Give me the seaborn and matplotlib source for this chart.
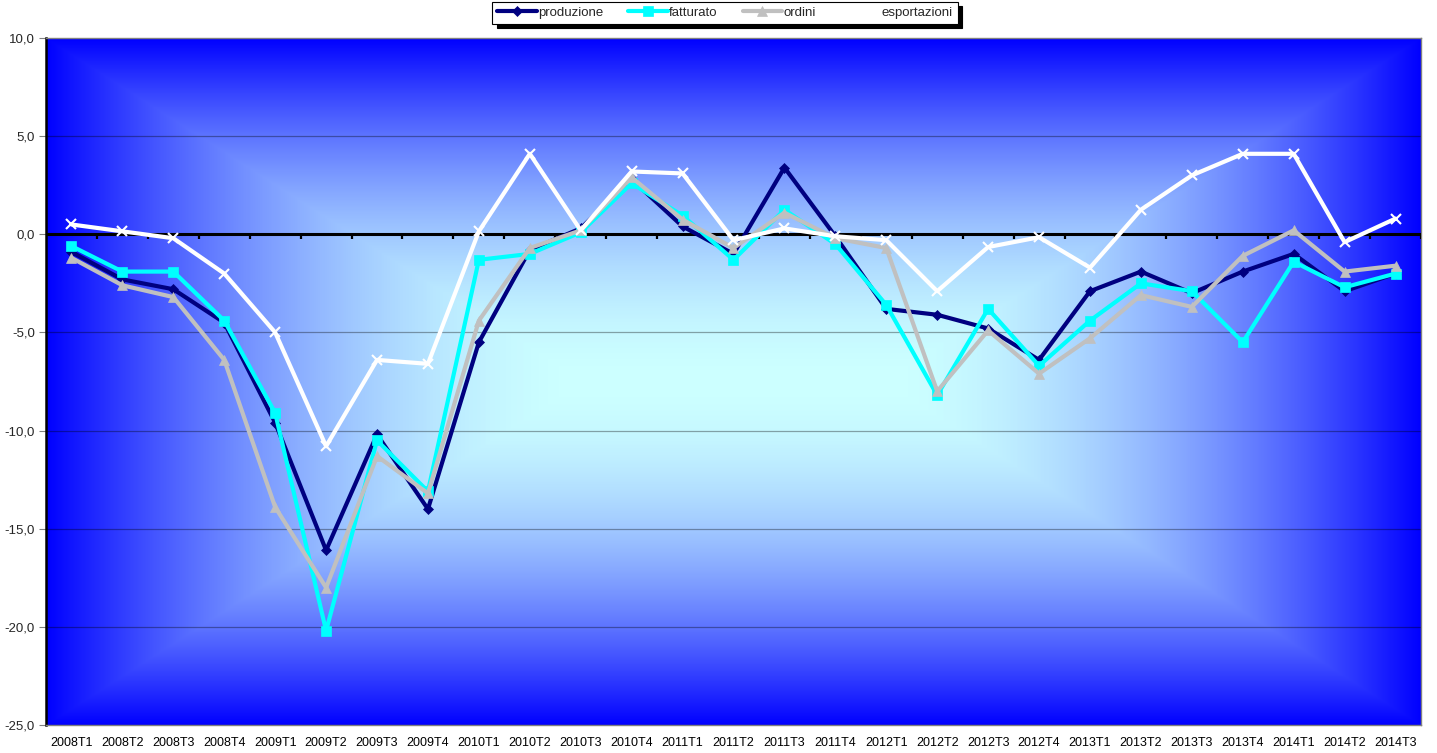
import numpy as np
import pandas as pd
import matplotlib
matplotlib.use('Agg')
import matplotlib.pyplot as plt
import seaborn as sns
from matplotlib.colors import LinearSegmentedColormap
from matplotlib.ticker import FuncFormatter, MultipleLocator

# dati trimestrali (variazioni %)
trimestri = ['2008T1', '2008T2', '2008T3', '2008T4',
             '2009T1', '2009T2', '2009T3', '2009T4',
             '2010T1', '2010T2', '2010T3', '2010T4',
             '2011T1', '2011T2', '2011T3', '2011T4',
             '2012T1', '2012T2', '2012T3', '2012T4',
             '2013T1', '2013T2', '2013T3', '2013T4',
             '2014T1', '2014T2', '2014T3']

produzione = [-0.9, -2.3, -2.8, -4.5, -9.6, -16.1, -10.2, -14.0,
              -5.5, -0.8, 0.3, 2.8, 0.4, -1.0, 3.4, -0.1,
              -3.8, -4.1, -4.8, -6.4, -2.9, -1.9, -3.0, -1.9,
              -1.0, -2.9, -2.0]
fatturato = [-0.6, -1.9, -1.9, -4.4, -9.1, -20.2, -10.5, -13.1,
             -1.3, -1.0, 0.1, 2.6, 0.95, -1.3, 1.25, -0.5,
             -3.6, -8.2, -3.8, -6.7, -4.4, -2.5, -2.9, -5.5,
             -1.4, -2.7, -2.0]
ordini = [-1.2, -2.6, -3.2, -6.4, -13.9, -18.0, -11.3, -13.2,
          -4.4, -0.7, 0.2, 2.9, 0.75, -0.7, 1.1, -0.2,
          -0.7, -8.0, -4.9, -7.1, -5.3, -3.1, -3.7, -1.1,
          0.2, -1.9, -1.6]
esportazioni = [0.5, 0.15, -0.2, -2.0, -5.0, -10.8, -6.4, -6.6,
                0.15, 4.1, 0.2, 3.2, 3.1, -0.3, 0.3, -0.1,
                -0.3, -2.9, -0.65, -0.15, -1.7, 1.25, 3.0, 4.1,
                4.1, -0.4, 0.8]

serie = {'produzione': produzione, 'fatturato': fatturato,
         'ordini': ordini, 'esportazioni': esportazioni}
colori = {'produzione': '#000080', 'fatturato': '#00FFFF',
          'ordini': '#C0C0C0', 'esportazioni': '#FFFFFF'}
marker = {'produzione': 'D', 'fatturato': 's', 'ordini': '^', 'esportazioni': 'x'}
msize = {'produzione': 5, 'fatturato': 7, 'ordini': 7, 'esportazioni': 7}

sns.set_style('white')
plt.rcParams['font.family'] = ['Liberation Sans', 'DejaVu Sans']

fig = plt.figure(figsize=(14.37, 7.53), dpi=100)
ax = fig.add_axes([46 / 1437, 28 / 753, 1375 / 1437, 687 / 753])

# sfondo sfumato rettangolare (centro chiaro, bordi blu), in pixel
W, H = 1375, 687
px, py = np.meshgrid(np.arange(W) - W / 2, np.arange(H) - H / 2)
nucleo = 150
dx = np.clip(np.abs(px) - nucleo, 0, None) / (W / 2 - nucleo)
dy = np.abs(py) / (H / 2)
dist = np.maximum(dx, dy) ** 1.8
cmap = LinearSegmentedColormap.from_list('bg', ['#CCFFFF', '#0000FF'])
ax.imshow(dist, cmap=cmap, vmin=0, vmax=1, extent=[0, 1, 0, 1], transform=ax.transAxes,
          aspect='auto', zorder=0, interpolation='bilinear')

for nome, valori in serie.items():
    sns.lineplot(x=trimestri, y=valori, ax=ax, color=colori[nome], lw=3,
                 marker=marker[nome], markersize=msize[nome],
                 markeredgecolor=colori[nome], markeredgewidth=1.5 if nome == 'esportazioni' else 0.5,
                 label=nome, zorder=4, sort=False)

ax.set_xlim(-0.5, len(trimestri) - 0.5)
ax.set_ylim(-25, 10)
ax.yaxis.set_major_locator(MultipleLocator(5))
ax.yaxis.set_major_formatter(FuncFormatter(lambda v, p: f"{v:.1f}".replace('.', ',')))
ax.grid(axis='y', color='black', alpha=0.35, lw=0.9, zorder=1)
ax.grid(axis='x', visible=False)
ax.set_axisbelow(True)

# asse delle categorie sullo zero
ax.axhline(0, color='black', lw=2.2, zorder=3)
confini = np.arange(len(trimestri) + 1) - 0.5
ax.vlines(confini, -0.22, 0, color='black', lw=1.6, zorder=3)

ax.tick_params(axis='x', length=0, labelsize=9, pad=9, colors='black')
ax.tick_params(axis='y', length=5, width=0.8, color='#808080', labelsize=9.5, pad=3, left=True)
for s in ['top', 'right', 'bottom']:
    ax.spines[s].set_color('#808080')
    ax.spines[s].set_linewidth(1)
ax.spines['left'].set_color('black')
ax.spines['left'].set_linewidth(1.8)
ax.set_xlabel('')
ax.set_ylabel('')

leg = ax.legend(loc='center', bbox_to_anchor=(725 / 1437, 1 - 13 / 753),
                bbox_transform=fig.transFigure, ncol=4, frameon=True,
                fancybox=False, shadow={'color': 'black', 'alpha': 1, 'ox': 3, 'oy': -3},
                edgecolor='black', fontsize=9.5, handlelength=3.0,
                columnspacing=1.9, handletextpad=0.1, borderpad=0.35)
leg.get_frame().set_linewidth(0.8)

fig.savefig('out.png', dpi=100)
